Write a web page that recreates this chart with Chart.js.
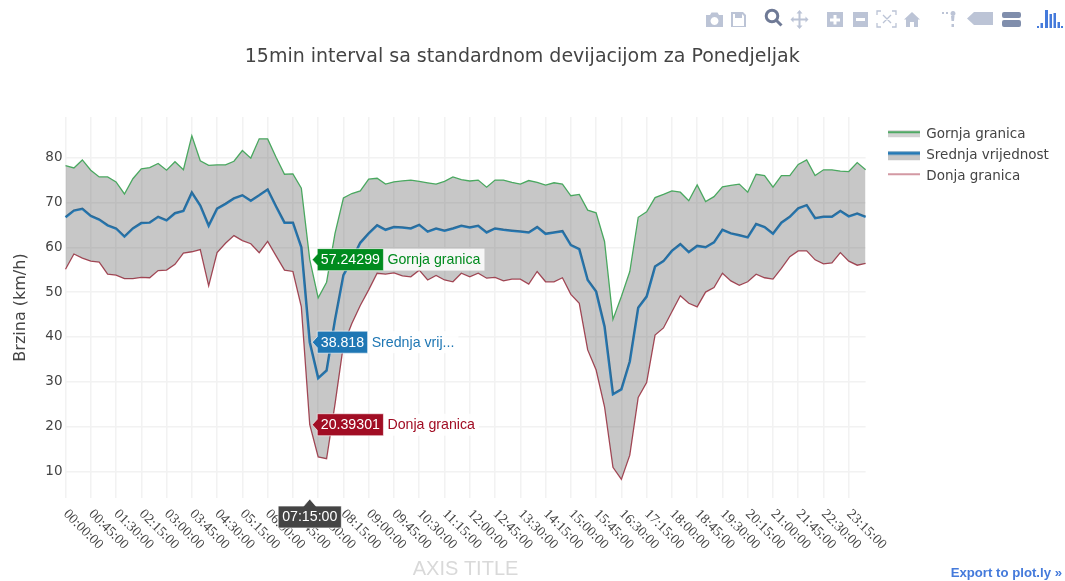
<!DOCTYPE html>
<html><head><meta charset="utf-8">
<title>15min interval</title>
<script src="https://cdn.jsdelivr.net/npm/chart.js@4"></script>
<style>
html,body{margin:0;padding:0;background:#fff;overflow:hidden}
#wrap{position:relative;width:1065px;height:581px}
canvas{display:block}
#tools{position:absolute;left:0;top:0}
#export{position:absolute;right:3px;top:565px;font:bold 13.2px "Liberation Sans",sans-serif;color:#447adb;text-decoration:none;white-space:nowrap}
</style></head><body>
<div id="wrap">
<canvas id="c" width="1065" height="581"></canvas>
<svg id="tools" width="1065" height="40" xmlns="http://www.w3.org/2000/svg">
 <g fill="#bcc4d6">
  <path d="M706 15h4l1.500-2.500h6l1.500 2.500h4v12h-17zM714.500 17a4 4 0 1 0 .01 0z" fill-rule="evenodd"/>
  <path d="M731 12h12l3 3v12h-15zM733 14v12h11v-10l-2-2v4h-7v-4z" fill-rule="evenodd"/>
  <path d="M799.500 10l3 3.500h-2v5h5v-2l3 3-3 3v-2h-5v5h2l-3 3.500-3-3.500h2v-5h-5v2l-3-3 3-3v2h5v-5h-2z"/>
  <path d="M827 12h16v15h-16zM833.500 15v3.500h-3.500v3h3.500v3h3v-3h3.500v-3h-3.500v-3.500z" fill-rule="evenodd"/>
  <path d="M853 12h15v15h-15zM856 18v3h9v-3z" fill-rule="evenodd"/>
  <path d="M912 12l8 7.500h-2v7.500h-4v-5h-4v5h-4v-7.500h-2z"/>
  <path d="M953 11a2.500 2.500 0 1 1-.01 0zM951 16h3.500l-.5 5h-2.500zM951.500 24h2.500v3h-2.500zM942 12h2v2h-2zM946 12h2v2h-2z"/>
  <path d="M974 12h19v13h-19l-7-6.500z"/>
 </g>
 <g fill="none" stroke="#bcc4d6" stroke-width="1.300">
  <path d="M877 15v-4h4M892 11h4v4M877 23v4h4M896 23v4h-4M883 15l8 8M891 15l-8 8"/>
 </g>
 <g fill="#808eac">
  <path d="M1004 12h15a2 2 0 0 1 2 2v2a2 2 0 0 1-2 2h-15a2 2 0 0 1-2-2v-2a2 2 0 0 1 2-2zM1004 20h15a2 2 0 0 1 2 2v3a2 2 0 0 1-2 2h-15a2 2 0 0 1-2-2v-3a2 2 0 0 1 2-2z"/>
 </g>
 <g fill="none" stroke="#6f7a96" stroke-width="3">
  <circle cx="772" cy="16" r="5.800"/><path d="M776.500 20.500l5 5"/>
 </g>
 <g fill="#447adb">
  <rect x="1037" y="26" width="2" height="2"/><rect x="1040.500" y="23" width="2.500" height="5"/>
  <rect x="1045" y="10" width="3" height="18"/><rect x="1049.500" y="14" width="2.500" height="14"/>
  <rect x="1053.500" y="13" width="2.500" height="15"/><rect x="1057.500" y="22" width="2.500" height="6"/><rect x="1061" y="26" width="2" height="2"/>
 </g>
</svg>
<a id="export" href="#">Export to plot.ly »</a>
</div>
<script>
const categories = [
"00:00:00","00:15:00","00:30:00","00:45:00","01:00:00","01:15:00","01:30:00","01:45:00",
"02:00:00","02:15:00","02:30:00","02:45:00","03:00:00","03:15:00","03:30:00","03:45:00",
"04:00:00","04:15:00","04:30:00","04:45:00","05:00:00","05:15:00","05:30:00","05:45:00",
"06:00:00","06:15:00","06:30:00","06:45:00","07:00:00","07:15:00","07:30:00","07:45:00",
"08:00:00","08:15:00","08:30:00","08:45:00","09:00:00","09:15:00","09:30:00","09:45:00",
"10:00:00","10:15:00","10:30:00","10:45:00","11:00:00","11:15:00","11:30:00","11:45:00",
"12:00:00","12:15:00","12:30:00","12:45:00","13:00:00","13:15:00","13:30:00","13:45:00",
"14:00:00","14:15:00","14:30:00","14:45:00","15:00:00","15:15:00","15:30:00","15:45:00",
"16:00:00","16:15:00","16:30:00","16:45:00","17:00:00","17:15:00","17:30:00","17:45:00",
"18:00:00","18:15:00","18:30:00","18:45:00","19:00:00","19:15:00","19:30:00","19:45:00",
"20:00:00","20:15:00","20:30:00","20:45:00","21:00:00","21:15:00","21:30:00","21:45:00",
"22:00:00","22:15:00","22:30:00","22:45:00","23:00:00","23:15:00","23:30:00","23:45:00"];

const gornja = [
78.2,77.7,79.5,77.2,75.7,75.7,74.6,71.9,75.3,77.5,77.8,78.7,77.2,79.1,77.3,84.9,
79.3,78.3,78.4,78.4,79.2,81.6,79.9,84.2,84.2,80.1,76.3,76.4,73.2,57.24299,48.7,52.2,
63.1,71,72,72.6,75.2,75.4,74.1,74.6,74.8,75,74.7,74.4,74.1,74.7,75.7,75.1,
74.8,75,73.4,75,75,74.5,74.1,74.9,74.5,73.9,74.4,74.1,71.5,71.8,68.3,67.7,
61.3,43.9,49,54.6,66.7,67.9,71.1,71.8,72.6,72.3,70.4,73.9,70.2,71.3,73.5,73.8,
74.1,72.3,76.3,76,73.4,76,76,78.5,79.5,76,77.3,77.3,77,76.9,78.9,77.3];

const srednja = [
66.7,68.2,68.6,67,66.2,64.9,64.2,62.4,64.2,65.4,65.5,66.8,66,67.6,68.1,72.2,
69.3,64.8,68.6,69.7,70.9,71.6,70.4,71.6,72.9,69.1,65.5,65.5,60,38.818,30.8,32.5,
43.8,53.8,57.2,61,63.1,64.9,63.9,64.5,64.4,64.2,65,63.5,64.2,63.7,64.2,64.8,
64.4,64.8,63.3,64.2,63.9,63.7,63.5,63.3,64.5,63,63.3,63.6,60.5,59.6,52.7,50.1,
42.3,27.2,28.3,34.5,46.5,49,55.7,56.9,59.2,60.7,58.9,60.3,60,61.1,63.9,63.1,
62.7,62.2,65.2,64.5,63,65.5,66.8,68.7,69.4,66.5,66.8,66.8,68.1,66.9,67.5,66.8];

const donja = [
55.1,58.5,57.6,56.9,56.7,54,53.8,53,53,53.3,53.2,54.8,54.9,56.2,58.7,59,
59.5,51.4,58.8,60.9,62.6,61.5,60.8,58.8,61.3,58.1,54.9,54.6,46.7,20.39301,13.2,12.8,
25,38.2,43,47,50.5,54.2,54,54.3,53.6,53.4,54.9,52.7,53.7,52.7,52.3,54.2,
53.4,54.2,53.1,53.3,52.5,52.9,52.9,51.8,54.6,52.3,52.3,53.2,49.5,47.5,37.1,32.6,
24.4,10.9,8.2,13.6,26.5,29.8,40.4,42,45.6,49.2,47.5,46.7,50,51,54.2,52.5,
51.5,52.3,54,53.2,52.9,55.3,57.9,59.2,59.2,57.2,56.3,56.5,58.8,56.9,56,56.4];

const yTicks = [10,20,30,40,50,60,70,80];
const seriesNames = ["Gornja granica","Srednja vrijednost","Donja granica"];
const hoverNames = ["Gornja granica","Srednja vrij...","Donja granica"];
const hoverTexts = ["57.24299","38.818","20.39301"];
const hoverCategory = "07:15:00";

function swatch(line, lw, fill, fillTop, fillBottom){
  const s=document.createElement('canvas'); s.width=32; s.height=20;
  const g=s.getContext('2d');
  if(fill){ g.fillStyle=fill; g.fillRect(0,fillTop,32,fillBottom-fillTop); }
  g.strokeStyle=line; g.lineWidth=lw; g.beginPath(); g.moveTo(0,8); g.lineTo(32,8); g.stroke();
  return s;
}
const GREEN='#4aa860', BLUE='#2379b6', RED='#b04858', FILL='rgba(68,68,68,0.3)';

const hoverPlugin = {
  id:'hover',
  beforeDraw(chart){ const l=chart.legend; l.left=880; l.right=1065; l.top=chart.chartArea.top+3; },
  afterDraw(chart){
    const ctx=chart.ctx, xs=chart.scales.x, ys=chart.scales.y;
    const idx=categories.indexOf(hoverCategory), x=xs.getPixelForValue(idx);
    const cols=['#008b1e','#1f77b4','#a10d24'];
    [gornja,srednja,donja].forEach((arr,k)=>{
      const y=ys.getPixelForValue(arr[idx]);
      ctx.save();
      ctx.font='14.2px "Liberation Sans", Arial, sans-serif';
      ctx.textBaseline='middle'; ctx.textAlign='left';
      const w=ctx.measureText(hoverTexts[k]).width+7;
      const nw=ctx.measureText(hoverNames[k]).width+8;
      const L=x+7.5, T=y-11, H=22;
      ctx.fillStyle='rgba(255,255,255,0.85)';
      ctx.fillRect(L+w,T,nw,H);
      ctx.fillStyle=cols[k];
      ctx.beginPath();
      ctx.moveTo(x+2.5,y); ctx.lineTo(L,y-5.5); ctx.lineTo(L,T); ctx.lineTo(L+w,T);
      ctx.lineTo(L+w,T+H); ctx.lineTo(L,T+H); ctx.lineTo(L,y+5.5); ctx.closePath(); ctx.fill();
      ctx.strokeStyle='rgba(255,255,255,0.6)'; ctx.lineWidth=1; ctx.stroke();
      ctx.fillStyle='#fff'; ctx.fillText(hoverTexts[k],L+3.5,y+0.5);
      ctx.fillStyle=cols[k]; ctx.fillText(hoverNames[k],L+w+4,y+0.5);
      ctx.restore();
    });
    const b=chart.chartArea.bottom;
    ctx.save();
    ctx.font='14.2px "Liberation Sans", Arial, sans-serif';
    ctx.textBaseline='middle'; ctx.textAlign='center';
    const tw=ctx.measureText(hoverCategory).width+8;
    ctx.fillStyle='#444';
    ctx.beginPath();
    ctx.moveTo(x,b+1); ctx.lineTo(x+6,b+8); ctx.lineTo(x+tw/2,b+8); ctx.lineTo(x+tw/2,b+30);
    ctx.lineTo(x-tw/2,b+30); ctx.lineTo(x-tw/2,b+8); ctx.lineTo(x-6,b+8); ctx.closePath(); ctx.fill();
    ctx.strokeStyle='rgba(255,255,255,0.7)'; ctx.lineWidth=1; ctx.stroke();
    ctx.fillStyle='#fff'; ctx.fillText(hoverCategory,x,b+19.5);
    ctx.restore();
  }
};

new Chart(document.getElementById('c'),{
  type:'line',
  plugins:[hoverPlugin],
  data:{labels:categories,datasets:[
    {label:seriesNames[0],data:gornja,borderColor:GREEN,borderWidth:1.3,backgroundColor:FILL,fill:'+1',
     pointRadius:0,tension:0,pointStyle:swatch('#4fa964',2,'#d2d2d2',6,13)},
    {label:seriesNames[1],data:srednja,borderColor:BLUE,borderWidth:2.5,backgroundColor:FILL,fill:'+1',
     pointRadius:0,tension:0,pointStyle:swatch(BLUE,3,'#c6c6c6',6,15)},
    {label:seriesNames[2],data:donja,borderColor:RED,borderWidth:1.3,backgroundColor:FILL,fill:false,
     pointRadius:0,tension:0,pointStyle:swatch('#c9808c',1.6)}
  ]},
  options:{
    responsive:false,animation:false,
    layout:{padding:{left:0,right:20.5,top:0,bottom:0}},
    plugins:{
      tooltip:{enabled:false},
      title:{display:true,text:'15min interval sa standardnom devijacijom za Ponedjeljak',
        color:'#444',font:{family:'"DejaVu Sans"',size:19,weight:'normal'},
        padding:{top:46,bottom:48.2},align:'center',fullSize:true},
      legend:{display:true,position:'right',align:'start',fullSize:false,
        labels:{usePointStyle:true,pointStyleWidth:32,color:'#444',padding:7.5,
          font:{family:'"DejaVu Sans"',size:13.5}}}
    },
    scales:{
      x:{type:'category',offset:false,
        grid:{color:'#f2f2f2',lineWidth:1.5,drawTicks:false},
        border:{display:false},
        ticks:{autoSkip:false,minRotation:-45,maxRotation:-45,padding:8,color:'#444',
          font:{family:'"Liberation Serif"',size:14}},
        afterBuildTicks(s){
          s.ticks=s.ticks.filter(t=>t.value%3===0);
          s._getXAxisLabelAlignment=()=>'left';
        },
        afterFit(s){ s.height=83; },
        title:{display:true,text:'AXIS TITLE',color:'#d9d9d9',
          font:{family:'"Liberation Sans"',size:20},padding:{top:0,bottom:0}}
      },
      y:{min:4.04,max:89.08,
        grid:{color:'#f2f2f2',lineWidth:1.5,drawTicks:false},
        border:{display:false},
        ticks:{color:'#444',padding:3,font:{family:'"DejaVu Sans"',size:13.5}},
        afterBuildTicks(s){ s.ticks=yTicks.map(v=>({value:v})); },
        afterFit(s){ s.width=65.5; },
        title:{display:true,text:'Brzina (km/h)',color:'#444',
          font:{family:'"DejaVu Sans"',size:16},padding:{top:11,bottom:0}}
      }
    }
  }
});
</script>
</body></html>
